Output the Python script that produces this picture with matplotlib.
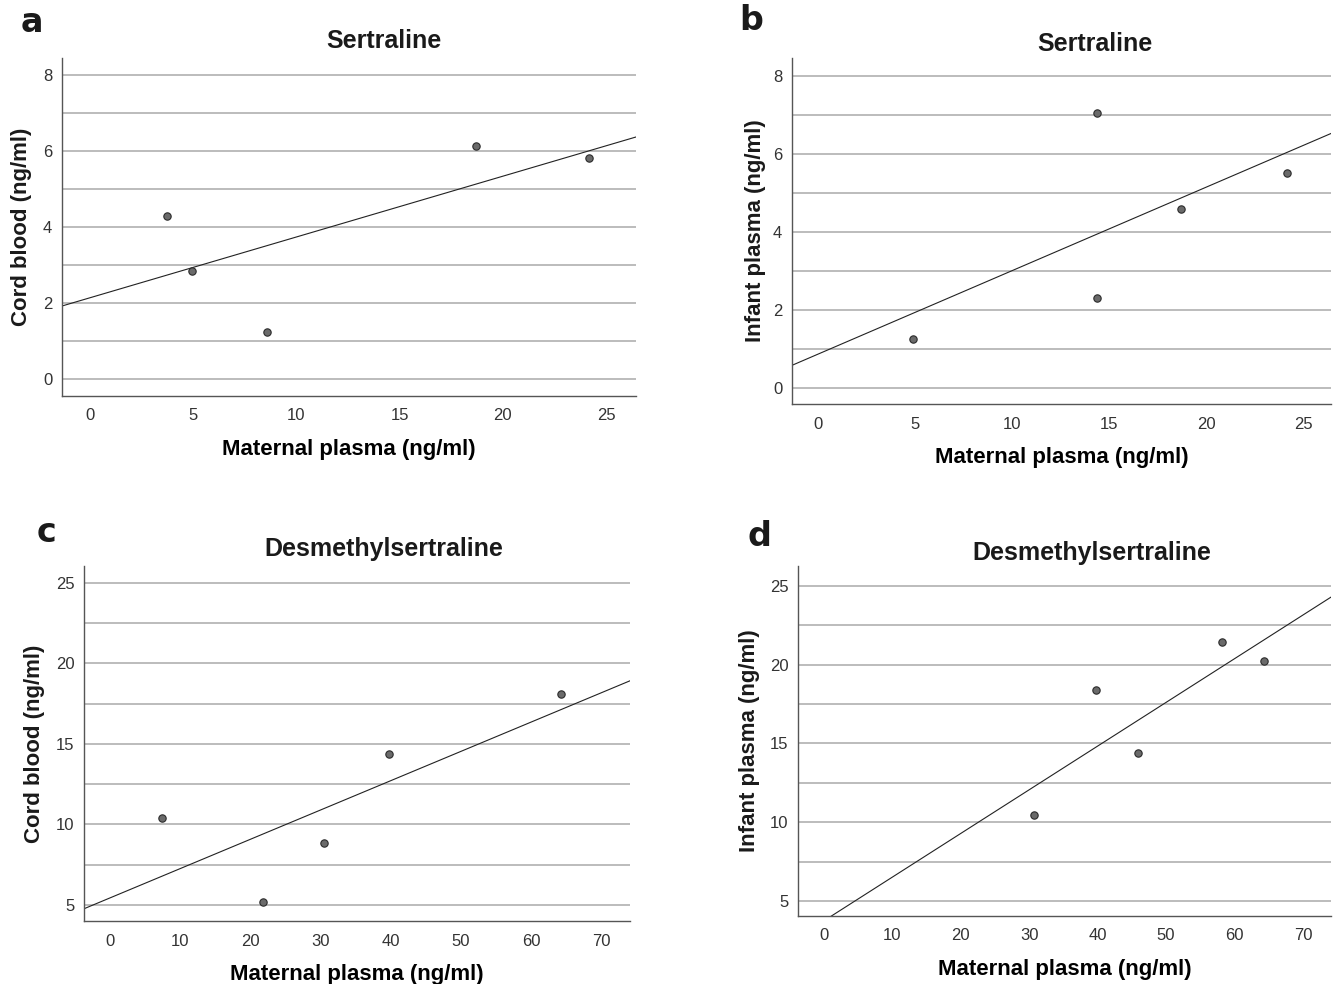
import matplotlib.pyplot as plt
import numpy as np

INK = "#1a1a1a"
TICK = "#333333"
GRID = "#b0b0b0"
SPINE = "#555555"

plt.rcParams.update(
    {
        "font.family": ["Liberation Sans", "DejaVu Sans"],
        "font.size": 11,
        "axes.edgecolor": SPINE,
        "text.color": INK,
        "xtick.color": TICK,
        "ytick.color": TICK,
        "figure.facecolor": "white",
        "savefig.facecolor": "white",
    }
)

# panel a: sertraline, maternal plasma vs cord blood
sert_maternal_cord = [3.71, 4.93, 8.57, 18.68, 24.18]
sert_cord = [4.29, 2.83, 1.23, 6.13, 5.82]

# panel b: sertraline, maternal plasma vs infant plasma
sert_maternal_infant = [4.90, 14.37, 14.37, 18.69, 24.18]
sert_infant = [1.25, 7.05, 2.30, 4.59, 5.52]

# panel c: desmethylsertraline, maternal plasma vs cord blood
dms_maternal_cord = [7.37, 21.75, 30.56, 39.78, 64.23]
dms_cord = [10.42, 5.21, 8.87, 14.39, 18.07]

# panel d: desmethylsertraline, maternal plasma vs infant plasma
dms_maternal_infant = [30.65, 39.77, 45.92, 58.20, 64.34]
dms_infant = [10.43, 18.39, 14.42, 21.45, 20.23]

sert_xticks = [0, 5, 10, 15, 20, 25]
sert_yticks = [0, 2, 4, 6, 8]
dms_xticks = [0, 10, 20, 30, 40, 50, 60, 70]
dms_yticks = [5, 10, 15, 20, 25]

W, H = 1341, 984
fig = plt.figure(figsize=(W / 100, H / 100), dpi=100)


def px_axes(left, top, right, bottom):
    return fig.add_axes([left / W, 1 - bottom / H, (right - left) / W, (bottom - top) / H])


panels = [
    # letter, title, ylabel, x, y, box, xlim, ylim, xticks, yticks, grid step, letter pos, title pos, ylabel x
    ("a", "Sertraline", "Cord blood (ng/ml)", sert_maternal_cord, sert_cord,
     (62, 58, 636, 396), (-1.36, 26.45), (-0.45, 8.45), sert_xticks, sert_yticks, 1.0,
     (32, 22), (384, 41), 22),
    ("b", "Sertraline", "Infant plasma (ng/ml)", sert_maternal_infant, sert_infant,
     (792, 58, 1331, 404), (-1.34, 26.44), (-0.41, 8.46), sert_xticks, sert_yticks, 1.0,
     (751, 20), (1095, 44), 755),
    ("c", "Desmethylsertraline", "Cord blood (ng/ml)", dms_maternal_cord, dms_cord,
     (84, 566, 630, 921), (-3.7, 74.1), (4.0, 26.05), dms_xticks, dms_yticks, 2.5,
     (47, 533), (384, 549), 35),
    ("d", "Desmethylsertraline", "Infant plasma (ng/ml)", dms_maternal_infant, dms_infant,
     (798, 566, 1331, 916), (-3.8, 74.1), (4.05, 26.25), dms_xticks, dms_yticks, 2.5,
     (759, 537), (1092, 553), 750),
]

for letter, title, ylabel, xs, ys, box, xlim, ylim, xticks, yticks, step, lpos, tpos, ylx in panels:
    ax = px_axes(*box)
    ax.set_xlim(*xlim)
    ax.set_ylim(*ylim)
    for g in np.arange(yticks[0], ylim[1], step):
        ax.axhline(g, color=GRID, linewidth=1.2, zorder=1)
    slope, icpt = np.polyfit(xs, ys, 1)
    lx = np.array(xlim)
    ax.plot(lx, icpt + slope * lx, color="#222222", linewidth=0.8, zorder=2)
    ax.scatter(xs, ys, s=28, color="#6a6a6a", edgecolors="#2a2a2a", linewidths=0.8, zorder=3)
    ax.set_xticks(xticks)
    ax.set_yticks(yticks)
    ax.tick_params(length=0, labelsize=12)
    ax.tick_params(axis="x", pad=9)
    ax.tick_params(axis="y", pad=7)
    for s in ("top", "right"):
        ax.spines[s].set_visible(False)
    ax.spines["left"].set_linewidth(1.0)
    ax.spines["bottom"].set_linewidth(1.0)
    ax.set_xlabel("Maternal plasma (ng/ml)", fontsize=16, fontweight="bold", labelpad=11)
    fig.text(tpos[0] / W, 1 - tpos[1] / H, title, ha="center", va="center", fontsize=18, fontweight="bold")
    fig.text(ylx / W, 1 - (box[1] + box[3]) / 2 / H, ylabel, rotation=90, ha="center", va="center",
             fontsize=16, fontweight="bold")
    fig.text(lpos[0] / W, 1 - lpos[1] / H, letter, ha="center", va="center", fontsize=24,
             fontweight="bold", family=["DejaVu Sans"])

fig.savefig("out.png", dpi=100)
